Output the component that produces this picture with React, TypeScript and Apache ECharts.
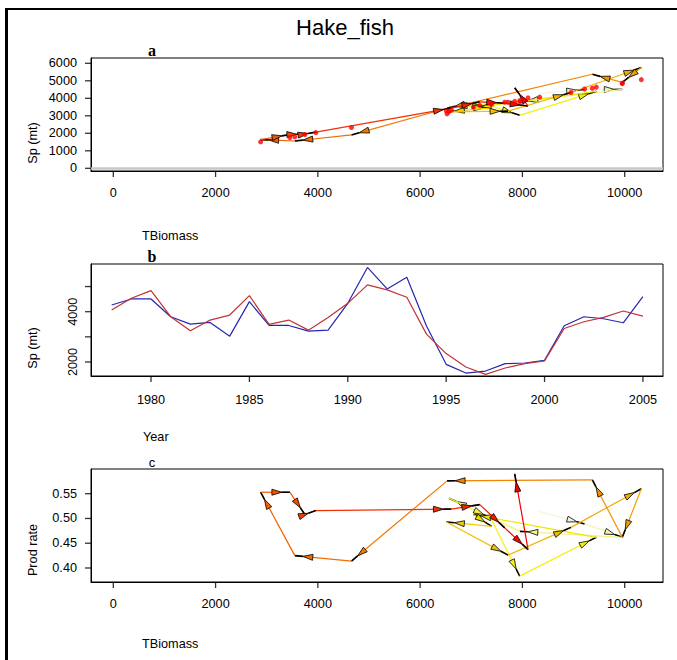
import React, { useEffect, useRef } from "react";
import * as echarts from "echarts";

const years = [1978, 1979, 1980, 1981, 1982, 1983, 1984, 1985, 1986, 1987, 1988, 1989, 1990, 1991, 1992, 1993, 1994, 1995, 1996, 1997, 1998, 1999, 2000, 2001, 2002, 2003, 2004, 2005];
const spObserved = [4267, 4507, 4507, 3800, 3507, 3573, 3027, 4400, 3453, 3453, 3227, 3267, 4333, 5760, 4907, 5373, 3430, 1907, 1560, 1640, 1933, 1960, 2067, 3440, 3800, 3720, 3560, 4600];
const spFitted = [4067, 4533, 4840, 3800, 3240, 3667, 3867, 4640, 3493, 3667, 3267, 3773, 4333, 5067, 4867, 4573, 3107, 2333, 1800, 1507, 1760, 1933, 2040, 3333, 3600, 3773, 4027, 3827];
const tBiomass = [8338, 9217, 9953, 7950, 6566, 7380, 7947, 9445, 7040, 7400, 6514, 7719, 8950, 10325, 9953, 9367, 6527, 4658, 3550, 2881, 3453, 3746, 3961, 6612, 7166, 7654, 8110, 7849];
const prodRate = [0.514, 0.489, 0.462, 0.474, 0.541, 0.501, 0.3835, 0.462, 0.508, 0.484, 0.493, 0.426, 0.482, 0.56, 0.462, 0.578, 0.576, 0.414, 0.425, 0.553, 0.553, 0.508, 0.516, 0.519, 0.528, 0.481, 0.437, 0.59];

const biomassTicks = [0, 2000, 4000, 6000, 8000, 10000];
const spTicksA = [0, 1000, 2000, 3000, 4000, 5000, 6000];
const yearTicks = [1980, 1985, 1990, 1995, 2000, 2005];
const spTicksB = [2000, 3000, 4000, 5000];
const spLabelsB = [2000, 4000];
const prodTicks = [0.4, 0.45, 0.5, 0.55];

const FONT = "'Liberation Sans', Arial, sans-serif";
const SERIF = "'Liberation Serif', 'Times New Roman', serif";
const FS = 12.7;
const TICK_LEN = 6;

const AXES = [
  { x: [-436, 10749], y: [-154, 6303] },
  { x: [1976.95, 2006.02], y: [1443, 5897] },
  { x: [-436, 10749], y: [0.3717, 0.5999] },
];

function hsvToHex(h: number, s: number, v: number) {
  const i = Math.floor(h * 6);
  const f = h * 6 - i;
  const p = v * (1 - s);
  const q = v * (1 - f * s);
  const t = v * (1 - (1 - f) * s);
  let r = 0, g = 0, b = 0;
  switch (i % 6) {
    case 0: r = v; g = t; b = p; break;
    case 1: r = q; g = v; b = p; break;
    case 2: r = p; g = v; b = t; break;
    case 3: r = p; g = q; b = v; break;
    case 4: r = t; g = p; b = v; break;
    default: r = v; g = p; b = q;
  }
  const hx = (x: number) => Math.round(x * 255).toString(16).padStart(2, "0");
  return "#" + hx(r) + hx(g) + hx(b);
}

// R's heat.colors(n), reversed: early years pale, late years red
function revHeat(n: number, v: number) {
  const j = Math.floor(n / 4);
  const i = n - j;
  const cols: string[] = [];
  for (let k = 0; k < i; k++) cols.push(hsvToHex((1 / 6) * (i > 1 ? k / (i - 1) : 0), 1, v));
  const s0 = 1 - 1 / (2 * j), s1 = 1 / (2 * j);
  for (let k = 0; k < j; k++) cols.push(hsvToHex(1 / 6, j > 1 ? s0 + (s1 - s0) * k / (j - 1) : s0, v));
  return cols.reverse();
}

const segColors = revHeat(years.length - 1, 0.95);

function segments(xs: number[], ys: number[]) {
  return xs.slice(0, -1).map((x, i) => [x, ys[i], xs[i + 1], ys[i + 1], i]);
}

function renderArrow(_params: any, api: any) {
  const p0 = api.coord([api.value(0), api.value(1)]);
  const p1 = api.coord([api.value(2), api.value(3)]);
  const col = segColors[api.value(4)];
  const dx = p1[0] - p0[0], dy = p1[1] - p0[1];
  const len = Math.hypot(dx, dy) || 1;
  const ux = dx / len, uy = dy / len;
  const nx = -uy, ny = ux;
  const stub = 8, head = 10, hw = 3;
  const qx = p1[0] - ux * stub, qy = p1[1] - uy * stub;
  const bx = qx - ux * head, by = qy - uy * head;
  return {
    type: "group",
    children: [
      { type: "line", shape: { x1: p0[0], y1: p0[1], x2: p1[0], y2: p1[1] }, style: { stroke: col, lineWidth: 1.2 } },
      { type: "line", shape: { x1: qx, y1: qy, x2: p1[0], y2: p1[1] }, style: { stroke: "#000", lineWidth: 1.6 } },
      {
        type: "polygon",
        shape: { points: [[qx, qy], [bx + nx * hw, by + ny * hw], [bx - nx * hw, by - ny * hw]] },
        style: { fill: col, stroke: "#000", lineWidth: 0.8 },
      },
    ],
  };
}

// tick marks as scatter symbols sitting on the box edges, placed by the axes' scales
function xTickSeries(gi: number, ticks: number[]) {
  return {
    type: "scatter", xAxisIndex: gi, yAxisIndex: gi, clip: false, silent: true, z: 10,
    symbol: "rect", symbolSize: [1.3, TICK_LEN], symbolOffset: [0, TICK_LEN / 2],
    itemStyle: { color: "#000" },
    data: ticks.map((v) => [v, AXES[gi].y[0]]),
  };
}
function yTickSeries(gi: number, ticks: number[]) {
  return {
    type: "scatter", xAxisIndex: gi, yAxisIndex: gi, clip: false, silent: true, z: 10,
    symbol: "rect", symbolSize: [TICK_LEN, 1.3], symbolOffset: [-TICK_LEN / 2, 0],
    itemStyle: { color: "#000" },
    data: ticks.map((v) => [AXES[gi].x[0], v]),
  };
}

const labelStyle = { color: "#000", fontSize: FS, fontFamily: FONT };
const axisLineStyle = { show: true, onZero: false, lineStyle: { color: "#000", width: 1 } };

const textEl = (x: number, y: number, text: string, font: string, align = "center", rotation = 0) => ({
  type: "text", x, y, rotation,
  style: { text, font, fill: "#000", textAlign: align, textVerticalAlign: "middle" },
});

function xAxisDef(gi: number, ticks: number[], margin: number) {
  return {
    gridIndex: gi, type: "value", min: AXES[gi].x[0], max: AXES[gi].x[1], position: "bottom",
    axisLine: axisLineStyle, splitLine: { show: false }, axisTick: { show: false },
    axisLabel: { ...labelStyle, customValues: ticks, margin, formatter: (v: number) => String(v) },
  };
}

export default function App() {
  const ref = useRef<HTMLDivElement>(null);
  useEffect(() => {
    document.body.style.margin = "0";
    const chart = echarts.init(ref.current!, null, { renderer: "svg" });
    const grids = [
      { left: 91, top: 58, width: 572, height: 113 },
      { left: 91, top: 264, width: 572, height: 112 },
      { left: 91, top: 469, width: 572, height: 113 },
    ].map((g) => ({ ...g, show: true, borderColor: "#000", borderWidth: 1, backgroundColor: "transparent" }));

    const option: any = {
      animation: false,
      backgroundColor: "#fff",
      grid: grids,
      xAxis: [xAxisDef(0, biomassTicks, 15), xAxisDef(1, yearTicks, 17), xAxisDef(2, biomassTicks, 15)],
      yAxis: [
        {
          gridIndex: 0, type: "value", min: AXES[0].y[0], max: AXES[0].y[1], position: "left",
          axisLine: axisLineStyle, splitLine: { show: false }, axisTick: { show: false },
          axisLabel: { ...labelStyle, customValues: spTicksA, margin: 14, formatter: (v: number) => String(v) },
        },
        {
          gridIndex: 1, type: "value", min: AXES[1].y[0], max: AXES[1].y[1], position: "left",
          axisLine: axisLineStyle, splitLine: { show: false }, axisTick: { show: false },
          axisLabel: { ...labelStyle, customValues: spLabelsB, rotate: 90, margin: 12, formatter: (v: number) => String(v) },
        },
        {
          gridIndex: 2, type: "value", min: AXES[2].y[0], max: AXES[2].y[1], position: "left",
          axisLine: axisLineStyle, splitLine: { show: false }, axisTick: { show: false },
          axisLabel: { ...labelStyle, customValues: prodTicks, margin: 14, formatter: (v: number) => v.toFixed(2) },
        },
      ],
      series: [
        {
          type: "line", xAxisIndex: 0, yAxisIndex: 0, data: [], silent: true,
          markLine: {
            silent: true, symbol: "none", label: { show: false },
            lineStyle: { color: "#c8c8c8", width: 2.5, type: "solid" },
            data: [{ yAxis: 0 }],
          },
        },
        {
          type: "custom", xAxisIndex: 0, yAxisIndex: 0, renderItem: renderArrow,
          data: segments(tBiomass, spObserved), z: 3,
        },
        {
          type: "scatter", xAxisIndex: 0, yAxisIndex: 0, symbol: "circle", symbolSize: 5,
          itemStyle: { color: "#ff0000" }, z: 5,
          data: tBiomass.map((t, i) => [t, spFitted[i]]),
        },
        {
          type: "line", xAxisIndex: 1, yAxisIndex: 1, symbol: "none",
          lineStyle: { color: "#2626b4", width: 1.2 },
          data: years.map((y, i) => [y, spObserved[i]]),
        },
        {
          type: "line", xAxisIndex: 1, yAxisIndex: 1, symbol: "none",
          lineStyle: { color: "#c03434", width: 1.2 },
          data: years.map((y, i) => [y, spFitted[i]]),
        },
        {
          type: "custom", xAxisIndex: 2, yAxisIndex: 2, renderItem: renderArrow,
          data: segments(tBiomass, prodRate), z: 3,
        },
        xTickSeries(0, biomassTicks),
        yTickSeries(0, spTicksA),
        xTickSeries(1, yearTicks),
        yTickSeries(1, spTicksB),
        xTickSeries(2, biomassTicks),
        yTickSeries(2, prodTicks),
      ],
      graphic: [
        { type: "rect", shape: { x: 5, y: 8, width: 3, height: 660 }, style: { fill: "#000" } },
        { type: "rect", shape: { x: 5, y: 8, width: 672, height: 2 }, style: { fill: "#000" } },
        textEl(345, 27, "Hake_fish", `22px ${FONT}`),
        textEl(152, 50, "a", `bold 16px ${SERIF}`),
        textEl(152, 256, "b", `bold 16px ${SERIF}`),
        textEl(152, 462, "c", `13px ${FONT}`),
        textEl(33, 143, "Sp (mt)", `${FS}px ${FONT}`, "center", Math.PI / 2),
        textEl(33, 348, "Sp (mt)", `${FS}px ${FONT}`, "center", Math.PI / 2),
        textEl(33, 550, "Prod rate", `${FS}px ${FONT}`, "center", Math.PI / 2),
        textEl(142, 236, "TBiomass", `${FS}px ${FONT}`, "left"),
        textEl(143, 437, "Year", `${FS}px ${FONT}`, "left"),
        textEl(142, 644, "TBiomass", `${FS}px ${FONT}`, "left"),
      ],
    };
    chart.setOption(option);
    return () => chart.dispose();
  }, []);
  return <div ref={ref} style={{ width: 677, height: 660 }} />;
}
